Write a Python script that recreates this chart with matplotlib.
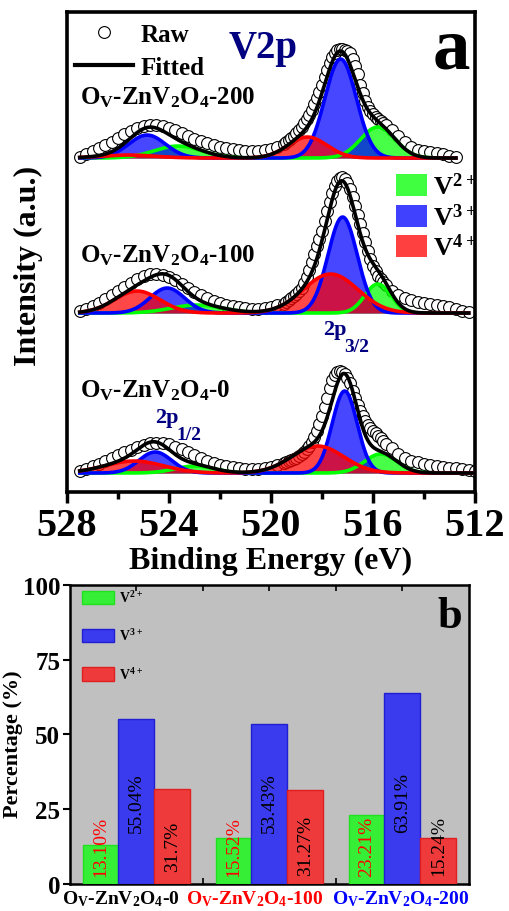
import numpy as np
import matplotlib
matplotlib.use('Agg')
import matplotlib.pyplot as plt
import matplotlib.transforms as mtransforms
from matplotlib.lines import Line2D
from matplotlib.patches import Patch
from matplotlib.ticker import MultipleLocator, FixedLocator

plt.rcParams['font.family'] = ['Liberation Serif', 'DejaVu Serif']
plt.rcParams['font.weight'] = 'bold'
plt.rcParams['axes.labelweight'] = 'bold'
plt.rcParams['mathtext.default'] = 'regular'

# ---------------- panel a : V 2p XPS ----------------
# binding energy grid of the raw scans (eV)
be_head = np.linspace(527.5, 519.75, 32)
be_peak = np.linspace(519.5, 515.5, 41)
be_tail_0 = np.linspace(515.25, 512.0, 14)
be_tail_100 = np.linspace(515.25, 512.25, 13)
be_tail_200 = np.linspace(515.25, 512.75, 11)

# raw intensities (a.u.)
raw_0 = [2, 4, 7, 9, 12, 15, 18, 21, 23, 26, 28, 30, 30, 30, 29, 26,
         24, 21, 18, 15, 12, 10, 8, 7, 6, 5, 4, 4, 4, 5, 6, 8,
         10, 11, 12, 13, 14, 15, 17, 19, 21, 24, 27, 31, 36, 42, 49, 57,
         66, 75, 85, 93, 98, 101, 102, 101, 99, 95, 90, 82, 75, 68, 62, 57,
         52, 48, 45, 42, 40, 37, 35, 32, 29,
         25, 19, 15, 12, 11, 9, 8, 7, 6, 5, 5, 4, 3, 2]
raw_100 = [2, 4, 7, 10, 14, 18, 22, 26, 30, 34, 37, 39, 39, 38, 36, 33,
           29, 25, 21, 18, 15, 12, 10, 8, 7, 6, 5, 4, 4, 5, 6, 8,
           9, 11, 13, 15, 17, 19, 22, 25, 30, 36, 43, 51, 59, 67, 74, 82,
           92, 102, 111, 120, 127, 132, 135, 136, 134, 130, 124, 116, 107, 98, 89, 80,
           71, 62, 54, 47, 42, 37, 34, 31, 28,
           22, 18, 15, 13, 11, 10, 9, 8, 7, 6, 4, 2, 1]
raw_200 = [1, 4, 7, 10, 13, 16, 20, 24, 27, 30, 32, 33, 33, 32, 30, 28,
           25, 22, 19, 17, 15, 13, 11, 10, 9, 8, 7, 7, 7, 8, 9, 11,
           14, 16, 18, 20, 22, 25, 28, 31, 35, 39, 43, 48, 54, 60, 66, 73,
           81, 88, 95, 101, 105, 108, 109, 109, 108, 107, 105, 99, 92, 84, 73, 65,
           57, 51, 47, 44, 41, 39, 37, 35, 33,
           28, 22, 16, 11, 8, 7, 6, 5, 4, 2, 1]

# fitted components: (centre eV, height a.u., FWHM eV) for 2p3/2 and 2p1/2
v2_fit_0 = [(515.70, 19, 1.5), (523.0, 7, 1.8)]
v3_fit_0 = [(517.11, 82, 1.15), (524.54, 21, 1.5)]
v4_fit_0 = [(518.17, 27, 2.4), (525.37, 12, 2.7)]
v2_fit_100 = [(515.81, 29, 1.2), (522.9, 8, 2.4)]
v3_fit_100 = [(517.19, 96, 1.35), (524.07, 25, 1.6)]
v4_fit_100 = [(517.66, 39, 2.5), (525.25, 22, 2.1)]
v2_fit_200 = [(515.81, 31, 1.6), (523.65, 12, 2.2)]
v3_fit_200 = [(517.27, 99, 1.45), (524.86, 23, 1.7)]
v4_fit_200 = [(518.57, 21, 1.8), (525.6, 3, 2.5)]

offsets = [19, 179, 334]

# ---------------- panel b : valence fractions ----------------
samples = [r'O$_\mathregular{V}$-ZnV$_\mathregular{2}$O$_\mathregular{4}$-0',
           r'O$_\mathregular{V}$-ZnV$_\mathregular{2}$O$_\mathregular{4}$-100',
           r'O$_\mathregular{V}$-ZnV$_\mathregular{2}$O$_\mathregular{4}$-200']
v2_pct = [13.10, 15.52, 23.21]
v3_pct = [55.04, 53.43, 63.91]
v4_pct = [31.7, 31.27, 15.24]
v2_txt = ['13.10%', '15.52%', '23.21%']
v3_txt = ['55.04%', '53.43%', '63.91%']
v4_txt = ['31.7%', '31.27%', '15.24%']


def gauss(e, c, h, w):
    return h * np.exp(-4 * np.log(2) * (e - c) ** 2 / w ** 2)


fig = plt.figure(figsize=(5.1, 9.12), dpi=100)
ax = fig.add_axes([0.1314, 0.4594, 0.7999, 0.5263])
ax2 = fig.add_axes([0.137, 0.0296, 0.7824, 0.3279])

comp_col = {'V2': '#00FF00', 'V3': '#0000FF', 'V4': '#FF0000'}

spectra = [
    (be_tail_0, raw_0, v2_fit_0, v3_fit_0, v4_fit_0),
    (be_tail_100, raw_100, v2_fit_100, v3_fit_100, v4_fit_100),
    (be_tail_200, raw_200, v2_fit_200, v3_fit_200, v4_fit_200),
]

for (tail, raw, f2, f3, f4), off in zip(spectra, offsets):
    be = np.concatenate([be_head, be_peak, tail])
    ax.plot(be, np.array(raw) + off, ls='none', marker='o', ms=8.5,
            mfc='white', mec='black', mew=0.8, zorder=1)
    e = np.linspace(be[0], be[-1], 800)
    total = np.zeros_like(e)
    for key, comps in [('V2', f2), ('V3', f3), ('V4', f4)]:
        y = sum(gauss(e, *p) for p in comps)
        total += y
        ax.fill_between(e, off, off + y, color=comp_col[key], alpha=0.72,
                        lw=0, zorder=2)
        ax.plot(e, off + y, color=comp_col[key], lw=2.6, zorder=3)
    ax.plot(e, off + total, color='black', lw=2.6, zorder=4)

ax.set_xlim(528, 512)
ax.set_ylim(0, 480)
ax.xaxis.set_major_locator(MultipleLocator(4))
ax.xaxis.set_minor_locator(MultipleLocator(2))
ax.set_yticks([])
ax.tick_params(axis='x', which='major', direction='out', length=8, width=2.5,
               labelsize=29, pad=3)
ax.tick_params(axis='x', which='minor', direction='out', length=5, width=2.5)
for s in ax.spines.values():
    s.set_linewidth(2.6)
ax.set_xlabel('Binding Energy (eV)', fontsize=23, fontweight='bold', labelpad=1)
ax.set_ylabel('Intensity (a.u.)', fontsize=23, fontweight='bold')
ax.yaxis.set_label_coords(-0.058, 0.473)

sample_txt = [r'O$_\mathregular{V}$-ZnV$_\mathregular{2}$O$_\mathregular{4}$-0',
              r'O$_\mathregular{V}$-ZnV$_\mathregular{2}$O$_\mathregular{4}$-100',
              r'O$_\mathregular{V}$-ZnV$_\mathregular{2}$O$_\mathregular{4}$-200']
for t, yb in zip(sample_txt, [96, 231, 389]):
    ax.text(527.5, yb, t, fontsize=18, va='baseline', ha='left')

ax.text(521.67, 435, 'V2p', fontsize=28, color='navy', va='baseline')
ax.text(512.2, 425, 'a', fontsize=54, va='baseline', ha='right')
ax.text(517.94, 158, '2p', fontsize=16, color='navy', va='baseline')
ax.text(517.12, 141, '3/2', fontsize=14, color='navy', va='baseline')
ax.text(524.56, 70, '2p', fontsize=16, color='navy', va='baseline')
ax.text(523.72, 53, '1/2', fontsize=14, color='navy', va='baseline')

h_raw = Line2D([], [], ls='none', marker='o', ms=8.5, mfc='white', mec='black', mew=0.8)
h_fit = Line2D([], [], color='black', lw=3)
leg1 = ax.legend([h_raw, h_fit], ['Raw', 'Fitted'], loc='upper left',
                 bbox_to_anchor=(0.02, 0.978), frameon=False, fontsize=18,
                 handlelength=2.3, handletextpad=0.3, labelspacing=0.4,
                 borderpad=0, borderaxespad=0)
ax.add_artist(leg1)
h_cmp = [Patch(facecolor=comp_col[k], alpha=0.75, edgecolor='none') for k in ['V2', 'V3', 'V4']]
ax.legend(h_cmp, [r'V$^\mathregular{2+}$', r'V$^\mathregular{3+}$', r'V$^\mathregular{4+}$'],
          loc='upper left', bbox_to_anchor=(0.806, 0.665), frameon=False,
          fontsize=19, handlelength=1.2, handleheight=0.9, handletextpad=0.2,
          labelspacing=0.15, borderpad=0, borderaxespad=0)

# ---------------- bars ----------------
x = np.arange(len(samples))
w = 0.27
bar_col = ['#36EE36', '#3A3AEE', '#EE3A3A']
bar_edge = ['#20E020', '#2020D0', '#E02020']
ax2.set_facecolor('#C0C0C0')
ax2.bar(x - w, v2_pct, w, color=bar_col[0], edgecolor=bar_edge[0], lw=1, zorder=3, label=r'V$^\mathregular{2+}$')
ax2.bar(x, v3_pct, w, color=bar_col[1], edgecolor=bar_edge[1], lw=1, zorder=3, label=r'V$^\mathregular{3+}$')
ax2.bar(x + w, v4_pct, w, color=bar_col[2], edgecolor=bar_edge[2], lw=1, zorder=3, label=r'V$^\mathregular{4+}$')
for i in range(len(samples)):
    ax2.text(x[i] - w, 12.7, v2_txt[i], rotation=90, ha='center', va='center',
             fontsize=14, fontweight='normal', color='red', zorder=4)
    ax2.text(x[i], 27.5, v3_txt[i], rotation=90, ha='center', va='center',
             fontsize=14, fontweight='normal', color='black', zorder=4)
    ax2.text(x[i] + w, 12.9, v4_txt[i], rotation=90, ha='center', va='center',
             fontsize=14, fontweight='normal', color='black', zorder=4)

ax2.set_xlim(-0.5, 2.5)
ax2.set_ylim(0, 100)
ax2.set_yticks([0, 25, 50, 75, 100])
ax2.set_xticks(x)
ax2.set_xticklabels([])
# category labels, nudged left as in the original layout
base = mtransforms.blended_transform_factory(ax2.transData, ax2.transAxes)
for xi, t, c, dx in zip(x, samples, ['black', 'red', 'blue'], [-16, -15, -2]):
    tr = base + mtransforms.ScaledTranslation(dx / 100, 0, fig.dpi_scale_trans)
    ax2.text(xi, -0.015, t, transform=tr, ha='center', va='top',
             fontsize=14, color=c)
ax2.xaxis.set_minor_locator(FixedLocator([0.5, 1.5]))
ax2.tick_params(axis='x', which='both', direction='in', top=True, length=4, width=1.2, pad=3)
ax2.tick_params(axis='y', which='major', direction='out', length=5, width=1.5, labelsize=18, pad=2)
for s in ax2.spines.values():
    s.set_linewidth(1.8)
ax2.set_ylabel('Percentage (%)', fontsize=16, fontweight='bold')
ax2.yaxis.set_label_coords(-0.118, 0.47)
ax2.text(0.982, 0.86, 'b', transform=ax2.transAxes, fontsize=32, ha='right', va='baseline')
ax2.legend(loc='upper left', bbox_to_anchor=(0.03, 0.985), frameon=False, fontsize=10,
           handlelength=2.3, handleheight=1.1, labelspacing=1.6, handletextpad=0.4,
           borderpad=0, borderaxespad=0)

fig.savefig('out.png', dpi=100)
